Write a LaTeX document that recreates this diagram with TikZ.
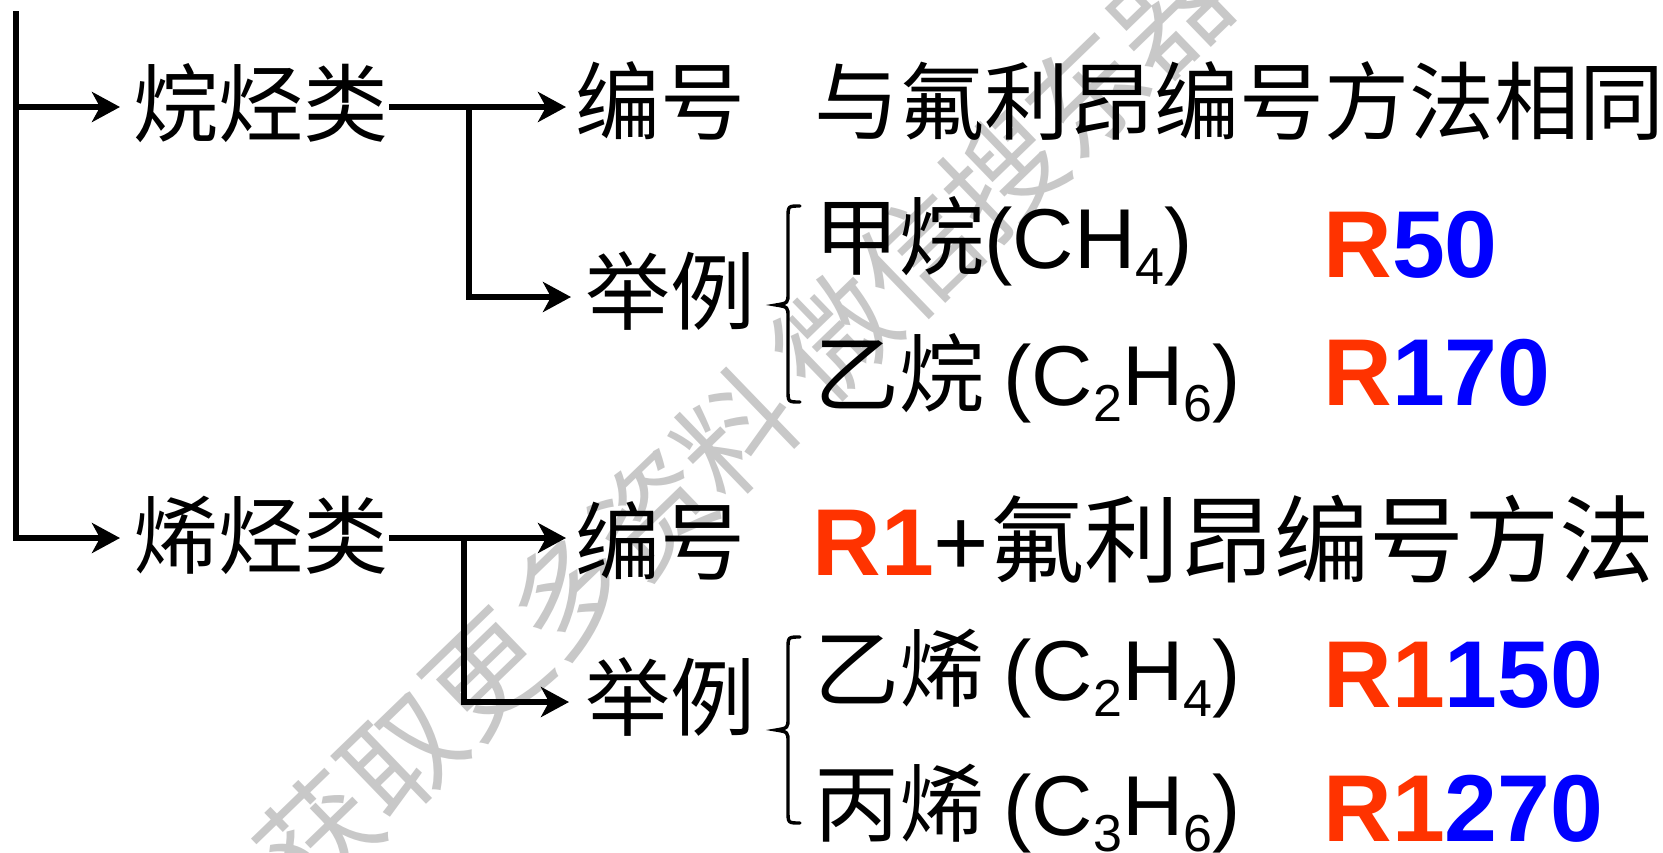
\documentclass[tikz,border=0pt]{standalone}
\usepackage{fontspec}
\setmainfont{Liberation Sans}
\newfontfamily\cjk{Noto Sans CJK SC}
\usetikzlibrary{arrows.meta}
\definecolor{rr}{RGB}{255,51,0}
\definecolor{bb}{RGB}{0,0,255}
\definecolor{wmc}{RGB}{200,200,200}
\newcommand{\fsz}[1]{\fontsize{#1}{#1}\selectfont}
\newcommand{\sbs}[1]{\raisebox{-8pt}{\fsz{26pt}#1}}
\begin{document}
\begin{tikzpicture}[x=0.5pt,y=-0.5pt,
  lbl/.style={inner sep=0pt, anchor=base west, font=\cjk\fsz{42.5pt}},
  lblb/.style={inner sep=0pt, anchor=base west, font=\cjk\fsz{47.5pt}},
  big/.style={inner sep=0pt, anchor=base west, font=\bfseries\fsz{47.5pt}},
  wm/.style={inner sep=0pt, font=\cjk\fsz{58pt}, text=wmc},
  ln/.style={line width=2.8pt},
  arr/.style={ln, -{Stealth[length=14pt,width=15pt,inset=4pt]}},
  brc/.style={line width=1.7pt, line cap=round}]
\useasboundingbox (0,0) rectangle (1663,852);
\clip (0,0) rectangle (1663,852);
\fill[white] (0,0) rectangle (1663,852);

% watermark
\node[wm, rotate=44] (wmk) at (744,424) {获取更多资料\hspace{0.2em}微信搜东器};

% level 1
\node[lbl] (a1) at (133,135) {烷烃类};
\node[lbl] (a2) at (133,567) {烯烃类};

% level 2
\node[lbl] (b1) at (575,133) {编号};
\node[lbl] (b2) at (585,323) {举例};
\node[lbl] (b3) at (575,573) {编号};
\node[lbl] (b4) at (585,729) {举例};

% descriptions
\node[lbl] (c1) at (814,133) {与氟利昂编号方法相同};
\node[lblb] (c2) at (812,575) {{\rmfamily\bfseries\color{rr}R1}{\rmfamily +}氟利昂编号方法};

% examples
\node[lbl] (d1) at (814,268) {甲烷{\rmfamily(CH\sbs{4})}};
\node[lbl] (d2) at (814,405) {乙烷 {\rmfamily(C\sbs{2}H\sbs{6})}};
\node[lbl] (d3) at (814,700) {乙烯 {\rmfamily(C\sbs{2}H\sbs{4})}};
\node[lbl] (d4) at (814,835) {丙烯 {\rmfamily(C\sbs{3}H\sbs{6})}};

\node[big] (e1) at (1323,277) {\textcolor{rr}{R}\textcolor{bb}{50}};
\node[big] (e2) at (1323,405) {\textcolor{rr}{R}\textcolor{bb}{170}};
\node[big] (e3) at (1323,707) {\textcolor{rr}{R1}\textcolor{bb}{150}};
\node[big] (e4) at (1323,841) {\textcolor{rr}{R1}\textcolor{bb}{270}};

% trunk
\coordinate (tt) at (16,11);
\coordinate (t1) at (16,107);
\coordinate (t2) at (16,538);
\draw[arr, shorten >=6.5pt] (tt) -- (t2) -- (t2 -| a2.west);
\draw[arr, shorten >=6.5pt] (t1) -- (t1 -| a1.west);

% upper branch
\coordinate (j1) at (469,107);
\coordinate (k1) at (469,297);
\draw[arr, shorten >=4.5pt] (t1 -| a1.east) -- (t1 -| b1.west);
\draw[arr, shorten >=7pt] (j1) -- (k1) -- (k1 -| b2.west);

% lower branch
\coordinate (j2) at (464,538);
\coordinate (k2) at (464,702);
\draw[arr, shorten >=4.5pt] (t2 -| a2.east) -- (t2 -| b3.west);
\draw[arr, shorten >=8pt] (j2) -- (k2) -- (k2 -| b4.west);

% braces
\draw[brc] (800,206) .. controls (788,206) .. (788,218) -- (788,293)
  .. controls (788,303) .. (776,305) .. controls (788,307) .. (788,317)
  -- (788,390) .. controls (788,402) .. (800,402);
\draw[brc] (800,637) .. controls (788,637) .. (788,649) -- (788,718)
  .. controls (788,728) .. (776,730) .. controls (788,732) .. (788,742)
  -- (788,811) .. controls (788,823) .. (800,823);
\end{tikzpicture}
\end{document}
